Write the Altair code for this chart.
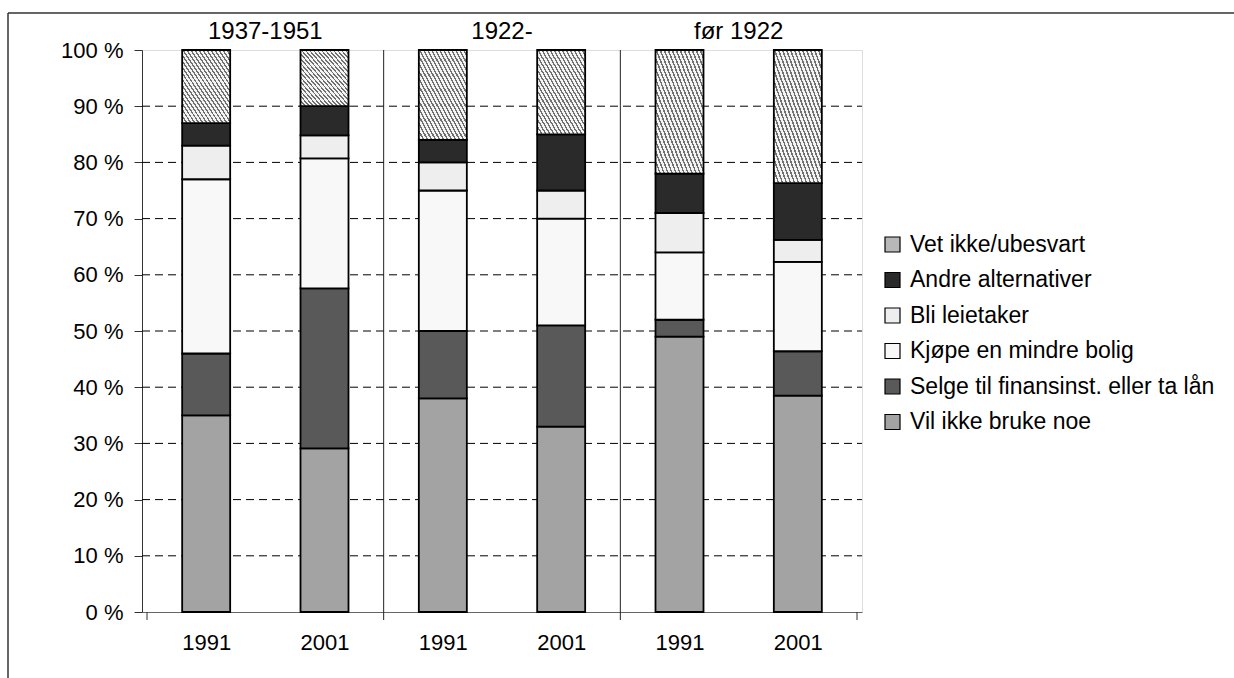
import altair as alt
import pandas as pd

# ---- data ----
groups = ["1937-1951", "1922-", "før 1922"]
years = ["1991", "2001"]
categories = ["Vil ikke bruke noe", "Selge til finansinst. eller ta lån",
              "Kjøpe en mindre bolig", "Bli leietaker",
              "Andre alternativer", "Vet ikke/ubesvart"]
# one list per category, bars in order: g1-1991, g1-2001, g2-1991, g2-2001, g3-1991, g3-2001
vil_ikke = [35, 29.1, 38, 33, 49, 38.5]
selge = [11, 28.5, 12, 18, 3, 7.9]
kjope = [31, 23.1, 25, 19, 12, 15.9]
leietaker = [6, 4.1, 5, 5, 7, 3.9]
andre = [4, 5.2, 4, 10, 7, 10.1]
vet_ikke = [13, 10.0, 16, 15, 22, 23.7]
colors = ["#a3a3a3", "#595959", "#f8f8f8", "#eeeeee", "#2a2a2a", "#b8b8b8"]
y_ticks = list(range(0, 101, 10))

series = [vil_ikke, selge, kjope, leietaker, andre, vet_ikke]
rows = []
for ci, (cat, vals) in enumerate(zip(categories, series)):
    for bi, v in enumerate(vals):
        rows.append({"kategori": cat, "ord": ci, "pos": bi + 0.5,
                     "gruppe": groups[bi // 2], "aar": years[bi % 2], "verdi": v})
df = pd.DataFrame(rows)

grp_df = pd.DataFrame({"gruppe": groups, "mid": [1, 3, 5]})
sep_df = pd.DataFrame({"b": [2, 4]})
edge_df = pd.DataFrame({"b": [0, 6]})
grid_df = pd.DataFrame({"v": y_ticks[1:-1]})

# hatch-like striped gradient for "Vet ikke/ubesvart"
stops = []
N = 24
for i in range(N):
    stops += [{"offset": i / N, "color": "#707070"},
              {"offset": (i + 0.4) / N, "color": "#707070"},
              {"offset": (i + 0.4) / N, "color": "#f4f4f4"},
              {"offset": (i + 1) / N, "color": "#f4f4f4"}]
hatch = {"gradient": "linear", "x1": 0, "y1": 1, "x2": 1, "y2": 0, "stops": stops}

FONT = "Liberation Sans"
FS = 22
W, H = 720, 562

year_expr = "floor(datum.value) %% 2 == 0 ? '%s' : '%s'" % (years[0], years[1])

xscale = alt.Scale(domain=[0, 6], nice=False, zero=False)
yscale = alt.Scale(domain=[0, 100], nice=False)

grid = alt.Chart(grid_df).mark_rule(color="black", strokeWidth=1, strokeDash=[8, 5]).encode(
    y=alt.Y("v:Q", scale=yscale), x=alt.value(0), x2=alt.value(W))

bars = alt.Chart(df).mark_bar(width=48, stroke="black", strokeWidth=1.8).encode(
    x=alt.X("pos:Q", scale=xscale,
            axis=alt.Axis(values=[0.5, 1.5, 2.5, 3.5, 4.5, 5.5], labelExpr=year_expr,
                          ticks=False, grid=False, title=None, domainColor="#666666",
                          labelFont=FONT, labelFontSize=FS, labelColor="black",
                          labelPadding=20)),
    y=alt.Y("verdi:Q", stack="zero", scale=yscale,
            axis=alt.Axis(values=y_ticks, labelExpr="datum.value + ' %'",
                          title=None, grid=False, tickSize=8, tickColor="#333333",
                          domainColor="#333333", labelFont=FONT, labelFontSize=FS,
                          labelColor="black", labelPadding=11)),
    fill=alt.condition(
        alt.datum.kategori == categories[5],
        alt.value(hatch),
        alt.Fill("kategori:N",
                 scale=alt.Scale(domain=categories, range=colors),
                 sort=categories[::-1],
                 legend=alt.Legend(title=None, orient="none", legendX=739, legendY=183,
                                   symbolType="square", symbolSize=225,
                                   symbolStrokeColor="black", symbolStrokeWidth=1.2,
                                   labelFont=FONT, labelFontSize=23, labelColor="black",
                                   labelLimit=0, rowPadding=11.5, labelOffset=6,
                                   values=categories[::-1]))),
    order=alt.Order("ord:Q", sort="ascending"),
)

seps = alt.Chart(sep_df).mark_rule(color="#222222", strokeWidth=1).encode(
    x=alt.X("b:Q", scale=xscale), y=alt.value(0), y2=alt.value(H + 8))
edges = alt.Chart(edge_df).mark_rule(color="#333333", strokeWidth=1).encode(
    x=alt.X("b:Q", scale=xscale), y=alt.value(H), y2=alt.value(H + 8))

titles = alt.Chart(grp_df).mark_text(font=FONT, fontSize=24, color="black",
                                     baseline="middle").encode(
    x=alt.X("mid:Q", scale=xscale), y=alt.value(-18), text="gruppe:N")

frame_left = alt.Chart(grp_df.head(1)).mark_rule(color="#333333", strokeWidth=1.5).encode(
    x=alt.value(-134), y=alt.value(-37), y2=alt.value(700))
frame_top = alt.Chart(grp_df.head(1)).mark_rule(color="#333333", strokeWidth=1.5).encode(
    x=alt.value(-134), x2=alt.value(1200), y=alt.value(-37))

chart = alt.layer(grid, bars, seps, edges, titles, frame_left, frame_top).properties(
    width=W, height=H,
    autosize=alt.AutoSizeParams(type="none"),
    padding={"left": 142, "top": 50, "right": 372, "bottom": 66},
).configure_view(stroke="#888888", strokeWidth=1.5).configure(background="white")

chart.save("out.html", embed_options={"renderer": "svg", "actions": False})
